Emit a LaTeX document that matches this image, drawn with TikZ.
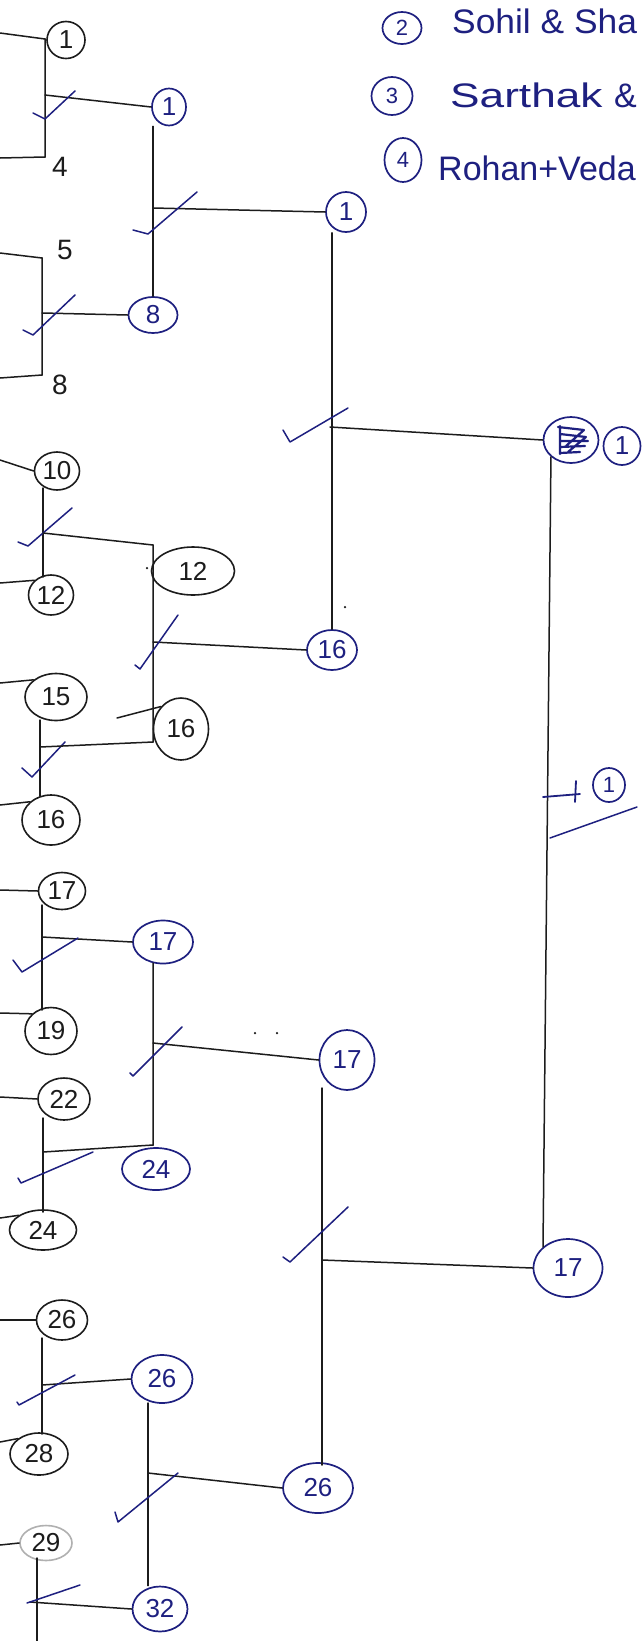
\documentclass[tikz,border=0pt]{standalone}
\usepackage{fontspec}
\setmainfont{Liberation Sans}
\usetikzlibrary{shapes.geometric}
\definecolor{ink}{RGB}{30,32,128}
\definecolor{pen}{RGB}{28,28,28}
\begin{document}
\begin{tikzpicture}[x=1pt,y=-1pt,
  wire/.style={draw=pen,line width=1.5pt,line cap=round},
  chk/.style={draw=ink,line width=1.5pt,line cap=round,line join=round},
  sz/.style 2 args={minimum width=#1,minimum height=#2},
  bl/.style={ellipse,draw=pen,line width=1.6pt,text=pen,inner sep=0pt,font=\fontsize{26}{26}\selectfont},
  blu/.style={ellipse,draw=ink,line width=1.7pt,text=ink,inner sep=0pt,font=\fontsize{26}{26}\selectfont},
  plain/.style={text=pen,inner sep=0pt,font=\fontsize{28}{28}\selectfont},
  hand/.style={text=ink,inner sep=0pt,font=\fontsize{34}{34}\selectfont},
  dot/.style={circle,fill=pen,inner sep=0pt,minimum size=2.5pt}]
\useasboundingbox (0,0) rectangle (644,1641);
\clip (0,0) rectangle (644,1641);
\fill[white] (0,0) rectangle (644,1641);

% ---------- header ----------
\node[blu,sz={39}{32},font=\fontsize{22}{22}\selectfont] (h2) at (402,28) {2};
\node[hand,anchor=base west] (t2) at (452,33) {\scalebox{1.04}[1]{Sohil \& Sha}};
\node[blu,sz={41}{38},font=\fontsize{22}{22}\selectfont] (h3) at (392,96) {3};
\node[hand,anchor=base west] (t3) at (450,107) {\scalebox{1.3}[1]{Sarthak}};
\node[hand,anchor=base west] (t3b) at (614,107) {\&};
\node[blu,sz={37}{44},font=\fontsize{22}{22}\selectfont] (h4) at (403,160) {4};
\node[hand,anchor=base west] (t4) at (438,180) {Rohan+Veda};

% ---------- round 1, pair 1 ----------
\coordinate (a1) at (0,33);  \coordinate (k1) at (45,39);
\coordinate (k2) at (45,157); \coordinate (a2) at (0,158);
\draw[wire] (a1) -- (k1) -- (k2) -- (a2);
\node[bl,sz={38}{37}] (n1) at (66,40) {1};
\node[plain] (n4) at (60,167) {4};
\coordinate (m1) at (45,95);
\node[blu,sz={34}{37}] (r1) at (169,107) {1};
\draw[wire] (m1) -- (r1.west);
\draw[chk] (33,113) -- (45,119) -- (75,91);

% ---------- round 1, pair 2 ----------
\coordinate (b1) at (0,253); \coordinate (l1) at (42,258);
\coordinate (l2) at (42,375); \coordinate (b2) at (0,378);
\draw[wire] (b1) -- (l1) -- (l2) -- (b2);
\node[plain] (n5) at (65,250) {5};
\node[plain] (n8) at (60,385) {8};
\coordinate (m2) at (42,313);
\node[blu,sz={49}{36}] (r8) at (153,315) {8};
\draw[wire] (m2) -- (r8.west);
\draw[chk] (23,330) -- (33,335) -- (75,295);

% ---------- round 2, pair 1 ----------
\draw[wire] (r8.north) -- (r8.north |- r1.south);
\coordinate (s1) at (153,208);
\node[blu,sz={40}{40}] (q1) at (346,212) {1};
\draw[wire] (s1) -- (q1.west);
\draw[chk] (133,230) -- (148,234) -- (197,192);

% ---------- round 1, pair 3 ----------
\node[bl,sz={45}{38}] (n10) at (57,471) {10};
\node[bl,sz={45}{40}] (n12) at (51,595) {12};
\coordinate (c1) at (0,460); \coordinate (c2) at (0,583);
\draw[wire] (c1) -- (n10.west);
\draw[wire] (c2) -- (n12.north west);
\coordinate (cv1) at (43,488); \coordinate (cv2) at (43,577);
\draw[wire] (cv1) -- (cv2);
\draw[chk] (18,542) -- (28,546) -- (72,508);

% ---------- round 1, pair 4 ----------
\node[bl,sz={62}{47}] (n15) at (56,697) {15};
\node[bl,sz={58}{50}] (n16a) at (51,820) {16};
\coordinate (d1) at (0,683); \coordinate (d2) at (0,805);
\draw[wire] (d1) -- (n15.north west);
\draw[wire] (d2) -- (n16a.north west);
\coordinate (dv1) at (40,720); \coordinate (dv2) at (40,796);
\draw[wire] (dv1) -- (dv2);
\draw[chk] (22,768) -- (32,777) -- (65,742);

% ---------- round 2, pair 2 ----------
\coordinate (e1) at (43,533); \coordinate (e2) at (153,545);
\coordinate (e3) at (153,742); \coordinate (e4) at (40,747);
\draw[wire] (e1) -- (e2) -- (e3) -- (e4);
\node[bl,ellipse,sz={83}{48}] (n12b) at (193,571) {12};
\node[bl,sz={55}{62}] (n16b) at (181,729) {16};
\node[dot] (p1) at (147,568) {};
\coordinate (em) at (153,642);
\node[blu,sz={50}{40}] (q16) at (332,650) {16};
\draw[wire] (em) -- (q16.west);
\draw[chk] (135,665) -- (140,669) -- (178,615);
\coordinate (x1) at (117,718);
\draw[wire] (x1) -- (n16b.north west);

% ---------- round 3, pair 1 ----------
\draw[wire] (q16.north) -- (q16.north |- q1.south);
\node[dot] (p2) at (345,607) {};
\coordinate (f1) at (330,427);
\node[blu,sz={55}{46}] (sc) at (571,440) {};
\draw[ink,line width=2.2pt,line cap=round,line join=round]
  (560,426) -- (560,454) (558,427) -- (584,430) (560,434) -- (586,437) (560,441) -- (588,441)
  (560,447) -- (585,446) (560,453) -- (580,452) (584,430) -- (566,446) (586,437) -- (568,452);
\node[blu,sz={37}{38}] (w1) at (622,446) {1};
\draw[wire] (f1) -- (sc.west);
\draw[chk] (283,430) -- (290,442) -- (348,408);

% ---------- round 1, pair 5 ----------
\node[bl,sz={47}{37}] (n17) at (62,891) {17};
\node[bl,sz={52}{47}] (n19) at (51,1031) {19};
\coordinate (g1) at (0,890); \coordinate (g2) at (0,1013);
\draw[wire] (g1) -- (n17.west);
\draw[wire] (g2) -- (n19.north west);
\coordinate (gv1) at (42,905); \coordinate (gv2) at (42,1010);
\draw[wire] (gv1) -- (gv2);
\coordinate (gm) at (42,937);
\node[blu,sz={60}{43}] (q17) at (163,942) {17};
\draw[wire] (gm) -- (q17.west);
\draw[chk] (13,960) -- (22,972) -- (78,938);

% ---------- round 1, pair 6 ----------
\node[bl,sz={52}{42}] (n22) at (64,1099) {22};
\node[bl,sz={67}{40}] (n24) at (43,1230) {24};
\coordinate (h1) at (0,1097); \coordinate (h2b) at (0,1218);
\draw[wire] (h1) -- (n22.west);
\draw[wire] (h2b) -- (n24.north west);
\coordinate (hv1) at (43,1118); \coordinate (hv2) at (43,1212);
\draw[wire] (hv1) -- (hv2);
\draw[chk] (18,1178) -- (21,1183) -- (93,1152);

% ---------- round 2, pair 3 ----------
\coordinate (i1) at (153,963); \coordinate (i2) at (153,1145); \coordinate (i3) at (43,1152);
\draw[wire] (i1) -- (i2) -- (i3);
\node[blu,sz={68}{42}] (q24) at (156,1169) {24};
\coordinate (im) at (153,1043);
\node[blu,sz={55}{60}] (c17) at (347,1060) {17};
\draw[wire] (im) -- (c17.west);
\draw[chk] (130,1073) -- (133,1076) -- (182,1027);
\node[dot] (p3) at (255,1033) {};
\node[dot] (p4) at (277,1033) {};

% ---------- round 1, pair 7 ----------
\node[bl,sz={51}{40}] (n26) at (62,1320) {26};
\node[bl,sz={58}{42}] (n28) at (39,1454) {28};
\coordinate (j1) at (0,1320); \coordinate (j2) at (0,1442);
\draw[wire] (j1) -- (n26.west);
\draw[wire] (j2) -- (n28.north west);
\coordinate (jv1) at (42,1338); \coordinate (jv2) at (42,1434);
\draw[wire] (jv1) -- (jv2);
\coordinate (jm) at (42,1385);
\node[blu,sz={61}{48}] (q26) at (162,1379) {26};
\draw[wire] (jm) -- (q26.west);
\draw[chk] (17,1402) -- (19,1405) -- (75,1375);

% ---------- round 1, pair 8 ----------
\node[bl,sz={52}{35},draw=pen!35] (n29) at (46,1543) {29};
\coordinate (o1) at (0,1545);
\draw[wire] (o1) -- (n29.west);
\coordinate (ov1) at (37,1558); \coordinate (ov2) at (37,1641);
\draw[wire] (ov1) -- (ov2);
\coordinate (om) at (30,1602);
\node[blu,sz={55}{45}] (q32) at (160,1609) {32};
\draw[wire] (om) -- (q32.west);
\draw[chk] (27,1603) -- (80,1585);

% ---------- round 2, pair 4 ----------
\draw[wire] (q32.north -| 148,0) -- (148,1403);
\coordinate (km) at (148,1473);
\node[blu,sz={70}{50}] (c26) at (318,1488) {26};
\draw[wire] (km) -- (c26.west);
\draw[chk] (115,1512) -- (118,1522) -- (178,1473);

% ---------- round 3, pair 2 ----------
\coordinate (u1) at (322,1088); \coordinate (u2) at (322,1465);
\draw[wire] (u1) -- (u2);
\coordinate (um) at (322,1260);
\node[blu,sz={69}{58}] (fz) at (568,1268) {17};
\draw[wire] (um) -- (fz.west);
\draw[chk] (283,1257) -- (290,1262) -- (348,1207);

% ---------- final ----------
\draw[wire] (sc.south west) -- (fz.north west);
\coordinate (y1) at (543,797); \coordinate (y2) at (580,794);
\draw[ink,line width=1.8pt,line cap=round] (y1) -- (y2) (576,781) -- (575,802);
\node[blu,sz={32}{34},font=\fontsize{22}{22}\selectfont] (pl) at (609,785) {1};
\coordinate (z1) at (550,838); \coordinate (z2) at (637,807);
\draw[chk] (z1) -- (z2);
\end{tikzpicture}
\end{document}
